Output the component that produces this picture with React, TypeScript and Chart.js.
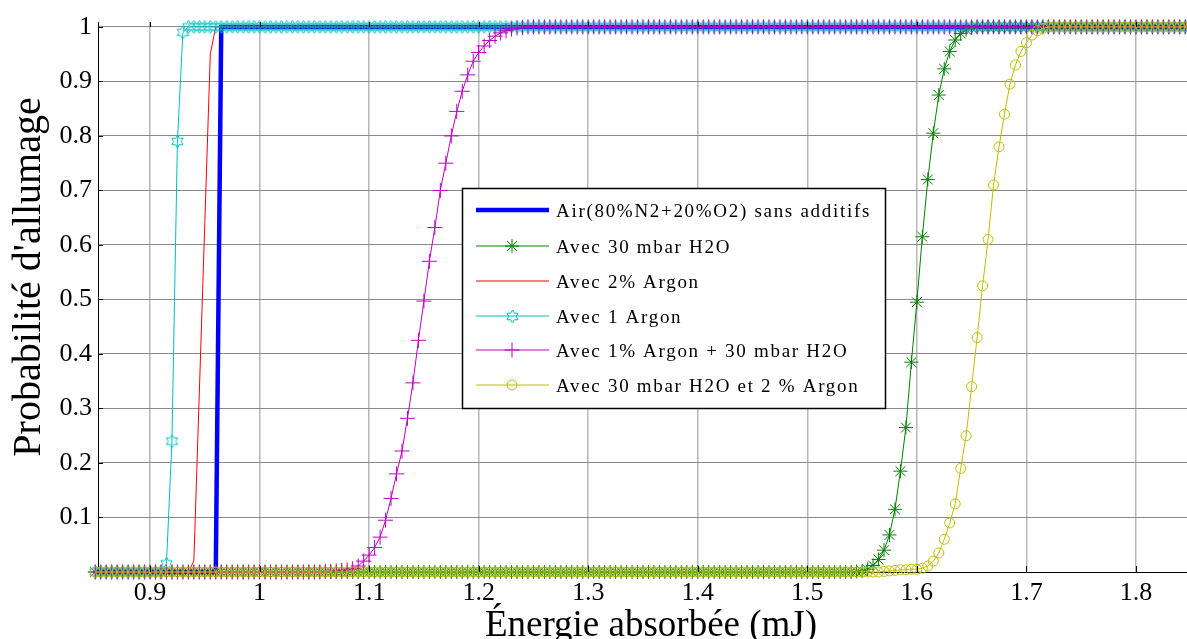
import React, { useEffect, useRef } from 'react';
import { Chart, registerables } from 'chart.js';

Chart.register(...registerables);

// Energy grid (mJ)
const energies = [
  0.85, 0.855, 0.86, 0.865, 0.87, 0.875, 0.88, 0.885, 0.89, 0.895,
  0.9, 0.905, 0.91, 0.915, 0.92, 0.925, 0.93, 0.935, 0.94, 0.945,
  0.95, 0.955, 0.96, 0.965, 0.97, 0.975, 0.98, 0.985, 0.99, 0.995,
  1, 1.005, 1.01, 1.015, 1.02, 1.025, 1.03, 1.035, 1.04, 1.045,
  1.05, 1.055, 1.06, 1.065, 1.07, 1.075, 1.08, 1.085, 1.09, 1.095,
  1.1, 1.105, 1.11, 1.115, 1.12, 1.125, 1.13, 1.135, 1.14, 1.145,
  1.15, 1.155, 1.16, 1.165, 1.17, 1.175, 1.18, 1.185, 1.19, 1.195,
  1.2, 1.205, 1.21, 1.215, 1.22, 1.225, 1.23, 1.235, 1.24, 1.245,
  1.25, 1.255, 1.26, 1.265, 1.27, 1.275, 1.28, 1.285, 1.29, 1.295,
  1.3, 1.305, 1.31, 1.315, 1.32, 1.325, 1.33, 1.335, 1.34, 1.345,
  1.35, 1.355, 1.36, 1.365, 1.37, 1.375, 1.38, 1.385, 1.39, 1.395,
  1.4, 1.405, 1.41, 1.415, 1.42, 1.425, 1.43, 1.435, 1.44, 1.445,
  1.45, 1.455, 1.46, 1.465, 1.47, 1.475, 1.48, 1.485, 1.49, 1.495,
  1.5, 1.505, 1.51, 1.515, 1.52, 1.525, 1.53, 1.535, 1.54, 1.545,
  1.55, 1.555, 1.56, 1.565, 1.57, 1.575, 1.58, 1.585, 1.59, 1.595,
  1.6, 1.605, 1.61, 1.615, 1.62, 1.625, 1.63, 1.635, 1.64, 1.645,
  1.65, 1.655, 1.66, 1.665, 1.67, 1.675, 1.68, 1.685, 1.69, 1.695,
  1.7, 1.705, 1.71, 1.715, 1.72, 1.725, 1.73, 1.735, 1.74, 1.745,
  1.75, 1.755, 1.76, 1.765, 1.77, 1.775, 1.78, 1.785, 1.79, 1.795,
  1.8, 1.805, 1.81, 1.815, 1.82, 1.825, 1.83, 1.835, 1.84, 1.845,
  1.85,
];

const airSansAdditifs = [
  0, 0, 0, 0, 0, 0, 0, 0, 0, 0,
  0, 0, 0, 0, 0, 0, 0, 0, 0, 0,
  0, 0, 0, 1, 1, 1, 1, 1, 1, 1,
  1, 1, 1, 1, 1, 1, 1, 1, 1, 1,
  1, 1, 1, 1, 1, 1, 1, 1, 1, 1,
  1, 1, 1, 1, 1, 1, 1, 1, 1, 1,
  1, 1, 1, 1, 1, 1, 1, 1, 1, 1,
  1, 1, 1, 1, 1, 1, 1, 1, 1, 1,
  1, 1, 1, 1, 1, 1, 1, 1, 1, 1,
  1, 1, 1, 1, 1, 1, 1, 1, 1, 1,
  1, 1, 1, 1, 1, 1, 1, 1, 1, 1,
  1, 1, 1, 1, 1, 1, 1, 1, 1, 1,
  1, 1, 1, 1, 1, 1, 1, 1, 1, 1,
  1, 1, 1, 1, 1, 1, 1, 1, 1, 1,
  1, 1, 1, 1, 1, 1, 1, 1, 1, 1,
  1, 1, 1, 1, 1, 1, 1, 1, 1, 1,
  1, 1, 1, 1, 1, 1, 1, 1, 1, 1,
  1, 1, 1, 1, 1, 1, 1, 1, 1, 1,
  1, 1, 1, 1, 1, 1, 1, 1, 1, 1,
  1, 1, 1, 1, 1, 1, 1, 1, 1, 1,
  1,
];

const avecH2O30 = [
  0, 0, 0, 0, 0, 0, 0, 0, 0, 0,
  0, 0, 0, 0, 0, 0, 0, 0, 0, 0,
  0, 0, 0, 0, 0, 0, 0, 0, 0, 0,
  0, 0, 0, 0, 0, 0, 0, 0, 0, 0,
  0, 0, 0, 0, 0, 0, 0, 0, 0, 0,
  0, 0, 0, 0, 0, 0, 0, 0, 0, 0,
  0, 0, 0, 0, 0, 0, 0, 0, 0, 0,
  0, 0, 0, 0, 0, 0, 0, 0, 0, 0,
  0, 0, 0, 0, 0, 0, 0, 0, 0, 0,
  0, 0, 0, 0, 0, 0, 0, 0, 0, 0,
  0, 0, 0, 0, 0, 0, 0, 0, 0, 0,
  0, 0, 0, 0, 0, 0, 0, 0, 0, 0,
  0, 0, 0, 0, 0, 0, 0, 0, 0, 0,
  0, 0, 0, 0, 0, 0, 0, 0, 0, 0.001,
  0.002, 0.005, 0.012, 0.023, 0.04, 0.068, 0.115, 0.185, 0.265, 0.385,
  0.495, 0.615, 0.72, 0.805, 0.875, 0.923, 0.955, 0.976, 0.988, 0.995,
  0.998, 1, 1, 1, 1, 1, 1, 1, 1, 1,
  1, 1, 1, 1, 1, 1, 1, 1, 1, 1,
  1, 1, 1, 1, 1, 1, 1, 1, 1, 1,
  1, 1, 1, 1, 1, 1, 1, 1, 1, 1,
  1,
];

const avecArgon2 = [
  0, 0, 0, 0, 0, 0, 0, 0, 0, 0,
  0, 0, 0, 0, 0, 0, 0, 0, 0.02, 0.33,
  0.64, 0.95, 1, 1, 1, 1, 1, 1, 1, 1,
  1, 1, 1, 1, 1, 1, 1, 1, 1, 1,
  1, 1, 1, 1, 1, 1, 1, 1, 1, 1,
  1, 1, 1, 1, 1, 1, 1, 1, 1, 1,
  1, 1, 1, 1, 1, 1, 1, 1, 1, 1,
  1, 1, 1, 1, 1, 1, 1, 1, 1, 1,
  1, 1, 1, 1, 1, 1, 1, 1, 1, 1,
  1, 1, 1, 1, 1, 1, 1, 1, 1, 1,
  1, 1, 1, 1, 1, 1, 1, 1, 1, 1,
  1, 1, 1, 1, 1, 1, 1, 1, 1, 1,
  1, 1, 1, 1, 1, 1, 1, 1, 1, 1,
  1, 1, 1, 1, 1, 1, 1, 1, 1, 1,
  1, 1, 1, 1, 1, 1, 1, 1, 1, 1,
  1, 1, 1, 1, 1, 1, 1, 1, 1, 1,
  1, 1, 1, 1, 1, 1, 1, 1, 1, 1,
  1, 1, 1, 1, 1, 1, 1, 1, 1, 1,
  1, 1, 1, 1, 1, 1, 1, 1, 1, 1,
  1, 1, 1, 1, 1, 1, 1, 1, 1, 1,
  1,
];

const avecArgon1 = [
  0, 0, 0, 0, 0, 0, 0, 0, 0, 0,
  0, 0, 0, 0.015, 0.24, 0.79, 0.99, 1, 1, 1,
  1, 1, 1, 1, 1, 1, 1, 1, 1, 1,
  1, 1, 1, 1, 1, 1, 1, 1, 1, 1,
  1, 1, 1, 1, 1, 1, 1, 1, 1, 1,
  1, 1, 1, 1, 1, 1, 1, 1, 1, 1,
  1, 1, 1, 1, 1, 1, 1, 1, 1, 1,
  1, 1, 1, 1, 1, 1, 1, 1, 1, 1,
  1, 1, 1, 1, 1, 1, 1, 1, 1, 1,
  1, 1, 1, 1, 1, 1, 1, 1, 1, 1,
  1, 1, 1, 1, 1, 1, 1, 1, 1, 1,
  1, 1, 1, 1, 1, 1, 1, 1, 1, 1,
  1, 1, 1, 1, 1, 1, 1, 1, 1, 1,
  1, 1, 1, 1, 1, 1, 1, 1, 1, 1,
  1, 1, 1, 1, 1, 1, 1, 1, 1, 1,
  1, 1, 1, 1, 1, 1, 1, 1, 1, 1,
  1, 1, 1, 1, 1, 1, 1, 1, 1, 1,
  1, 1, 1, 1, 1, 1, 1, 1, 1, 1,
  1, 1, 1, 1, 1, 1, 1, 1, 1, 1,
  1, 1, 1, 1, 1, 1, 1, 1, 1, 1,
  1,
];

const avecArgon1H2O30 = [
  0, 0, 0, 0, 0, 0, 0, 0, 0, 0,
  0, 0, 0, 0, 0, 0, 0, 0, 0, 0,
  0, 0, 0, 0, 0, 0, 0, 0, 0, 0,
  0, 0, 0, 0, 0, 0, 0, 0, 0, 0,
  0, 0, 0.001, 0.001, 0.002, 0.003, 0.004, 0.006, 0.011, 0.02,
  0.031, 0.045, 0.064, 0.095, 0.135, 0.18, 0.222, 0.282, 0.347, 0.425,
  0.497, 0.57, 0.632, 0.7, 0.75, 0.8, 0.845, 0.882, 0.912, 0.937,
  0.953, 0.965, 0.975, 0.983, 0.989, 0.993, 0.996, 0.998, 0.999, 1,
  1, 1, 1, 1, 1, 1, 1, 1, 1, 1,
  1, 1, 1, 1, 1, 1, 1, 1, 1, 1,
  1, 1, 1, 1, 1, 1, 1, 1, 1, 1,
  1, 1, 1, 1, 1, 1, 1, 1, 1, 1,
  1, 1, 1, 1, 1, 1, 1, 1, 1, 1,
  1, 1, 1, 1, 1, 1, 1, 1, 1, 1,
  1, 1, 1, 1, 1, 1, 1, 1, 1, 1,
  1, 1, 1, 1, 1, 1, 1, 1, 1, 1,
  1, 1, 1, 1, 1, 1, 1, 1, 1, 1,
  1, 1, 1, 1, 1, 1, 1, 1, 1, 1,
  1, 1, 1, 1, 1, 1, 1, 1, 1, 1,
  1, 1, 1, 1, 1, 1, 1, 1, 1, 1,
  1,
];

const avecH2O30Argon2 = [
  0, 0, 0, 0, 0, 0, 0, 0, 0, 0,
  0, 0, 0, 0, 0, 0, 0, 0, 0, 0,
  0, 0, 0, 0, 0, 0, 0, 0, 0, 0,
  0, 0, 0, 0, 0, 0, 0, 0, 0, 0,
  0, 0, 0, 0, 0, 0, 0, 0, 0, 0,
  0, 0, 0, 0, 0, 0, 0, 0, 0, 0,
  0, 0, 0, 0, 0, 0, 0, 0, 0, 0,
  0, 0, 0, 0, 0, 0, 0, 0, 0, 0,
  0, 0, 0, 0, 0, 0, 0, 0, 0, 0,
  0, 0, 0, 0, 0, 0, 0, 0, 0, 0,
  0, 0, 0, 0, 0, 0, 0, 0, 0, 0,
  0, 0, 0, 0, 0, 0, 0, 0, 0, 0,
  0, 0, 0, 0, 0, 0, 0, 0, 0, 0,
  0, 0, 0, 0, 0, 0, 0, 0, 0, 0,
  0, 0, 0, 0, 0.001, 0.002, 0.003, 0.004, 0.004, 0.005,
  0.005, 0.007, 0.011, 0.02, 0.035, 0.06, 0.09, 0.125, 0.19, 0.25,
  0.34, 0.43, 0.525, 0.61, 0.71, 0.78, 0.84, 0.895, 0.93, 0.955,
  0.971, 0.985, 0.993, 0.997, 1, 1, 1, 1, 1, 1,
  1, 1, 1, 1, 1, 1, 1, 1, 1, 1,
  1, 1, 1, 1, 1, 1, 1, 1, 1, 1,
  1,
];

const seriesLabels = [
  'Air(80%N2+20%O2) sans additifs',
  'Avec 30 mbar H2O',
  'Avec 2% Argon',
  'Avec 1 Argon',
  'Avec 1% Argon + 30 mbar H2O',
  'Avec 30 mbar H2O et 2 % Argon',
];

const xTickValues = [0.9, 1, 1.1, 1.2, 1.3, 1.4, 1.5, 1.6, 1.7, 1.8];
const xTickLabels = ['0.9', '1', '1.1', '1.2', '1.3', '1.4', '1.5', '1.6', '1.7', '1.8'];
const yTickValues = [0.1, 0.2, 0.3, 0.4, 0.5, 0.6, 0.7, 0.8, 0.9, 1];
const yTickLabels = ['0.1', '0.2', '0.3', '0.4', '0.5', '0.6', '0.7', '0.8', '0.9', '1'];
const xAxisTitle = 'Énergie absorbée (mJ)';
const yAxisTitle = "Probabilité d'allumage";

const SERIF = '"Liberation Serif", "DejaVu Serif", serif';

type MarkerKind = 'none' | 'star' | 'hexagram' | 'cross' | 'circle';

function makeHexagram(color: string, r: number): HTMLCanvasElement {
  const size = Math.ceil(2 * r + 4);
  const c = document.createElement('canvas');
  c.width = size;
  c.height = size;
  const g = c.getContext('2d')!;
  g.strokeStyle = color;
  g.lineWidth = 1;
  const cx = size / 2;
  const cy = size / 2;
  g.beginPath();
  for (let k = 0; k < 12; k++) {
    const a = -Math.PI / 2 + (k * Math.PI) / 6;
    const rr = k % 2 === 0 ? r : r / Math.sqrt(3);
    const px = cx + rr * Math.cos(a);
    const py = cy + rr * Math.sin(a);
    if (k === 0) g.moveTo(px, py);
    else g.lineTo(px, py);
  }
  g.closePath();
  g.stroke();
  return c;
}

function drawMarker(ctx: CanvasRenderingContext2D, kind: MarkerKind, x: number, y: number, color: string, r: number, img?: HTMLCanvasElement) {
  ctx.save();
  ctx.strokeStyle = color;
  ctx.lineWidth = 1;
  if (kind === 'star') {
    ctx.beginPath();
    for (let k = 0; k < 4; k++) {
      const a = (k * Math.PI) / 4;
      ctx.moveTo(x - r * Math.cos(a), y - r * Math.sin(a));
      ctx.lineTo(x + r * Math.cos(a), y + r * Math.sin(a));
    }
    ctx.stroke();
  } else if (kind === 'cross') {
    ctx.beginPath();
    ctx.moveTo(x - r, y);
    ctx.lineTo(x + r, y);
    ctx.moveTo(x, y - r);
    ctx.lineTo(x, y + r);
    ctx.stroke();
  } else if (kind === 'circle') {
    ctx.beginPath();
    ctx.arc(x, y, r, 0, Math.PI * 2);
    ctx.stroke();
  } else if (kind === 'hexagram' && img) {
    ctx.drawImage(img, Math.round(x - img.width / 2), Math.round(y - img.height / 2));
  }
  ctx.restore();
}

export default function App() {
  const canvasRef = useRef<HTMLCanvasElement | null>(null);

  useEffect(() => {
    const canvas = canvasRef.current;
    if (!canvas) return;

    const cyanColor = '#00bfbf';
    const hexImg = makeHexagram(cyanColor, 6.5);

    const styles: { color: string; width: number; marker: MarkerKind; radius: number }[] = [
      { color: '#0000ff', width: 4.5, marker: 'none', radius: 0 },
      { color: '#008000', width: 1, marker: 'star', radius: 7 },
      { color: '#ff0000', width: 1, marker: 'none', radius: 0 },
      { color: cyanColor, width: 1, marker: 'hexagram', radius: 6.5 },
      { color: '#bf00bf', width: 1, marker: 'cross', radius: 7.5 },
      { color: '#bfbf00', width: 1, marker: 'circle', radius: 5 },
    ];
    const seriesValues = [airSansAdditifs, avecH2O30, avecArgon2, avecArgon1, avecArgon1H2O30, avecH2O30Argon2];

    const datasets = seriesValues.map((vals, idx) => {
      const st = styles[idx];
      let pointStyle: any = 'circle';
      if (st.marker === 'star') pointStyle = 'star';
      if (st.marker === 'cross') pointStyle = 'cross';
      if (st.marker === 'hexagram') pointStyle = hexImg;
      return {
        label: seriesLabels[idx],
        data: energies.map((x, i) => ({ x, y: vals[i] })),
        borderColor: st.color,
        backgroundColor: 'rgba(0,0,0,0)',
        borderWidth: st.width,
        pointStyle,
        pointRadius: st.marker === 'none' ? 0 : st.radius,
        pointBorderColor: st.color,
        pointBackgroundColor: 'rgba(0,0,0,0)',
        pointBorderWidth: 1,
        tension: 0,
        fill: false,
        clip: false as any,
        order: seriesValues.length - 1 - idx,
      };
    });

    const decorPlugin = {
      id: 'decor',
      afterDraw(chart: any) {
        const ctx: CanvasRenderingContext2D = chart.ctx;
        const area = chart.chartArea;
        const xs = chart.scales.x;
        const ys = chart.scales.y;
        ctx.save();
        // inner tick marks
        ctx.strokeStyle = '#000';
        ctx.lineWidth = 1;
        ctx.beginPath();
        xTickValues.forEach((v) => {
          const px = Math.round(xs.getPixelForValue(v)) + 0.5;
          ctx.moveTo(px, area.bottom);
          ctx.lineTo(px, area.bottom - 6);
          ctx.moveTo(px, area.top);
          ctx.lineTo(px, area.top + 5);
        });
        yTickValues.forEach((v) => {
          const py = Math.round(ys.getPixelForValue(v)) + 0.5;
          ctx.moveTo(area.left, py);
          ctx.lineTo(area.left + 5, py);
        });
        ctx.stroke();

        // axis titles
        ctx.fillStyle = '#000';
        ctx.font = `37px ${SERIF}`;
        ctx.textAlign = 'center';
        ctx.textBaseline = 'alphabetic';
        ctx.fillText(xAxisTitle, 651, 636);
        ctx.save();
        ctx.translate(40, 277);
        ctx.rotate(-Math.PI / 2);
        ctx.font = `40px ${SERIF}`;
        ctx.fillText(yAxisTitle, 0, 0);
        ctx.restore();

        // legend box
        const bx = 462, by = 188, bw = 423, bh = 220;
        ctx.fillStyle = '#fff';
        ctx.fillRect(bx, by, bw, bh);
        ctx.strokeStyle = '#000';
        ctx.lineWidth = 1.5;
        ctx.strokeRect(bx + 0.5, by + 0.5, bw, bh);
        const rowY = [210, 246, 281, 316, 350, 385];
        seriesLabels.forEach((label, idx) => {
          const st = styles[idx];
          const y = rowY[idx];
          ctx.strokeStyle = st.color;
          ctx.lineWidth = st.width;
          ctx.beginPath();
          ctx.moveTo(476, y);
          ctx.lineTo(549, y);
          ctx.stroke();
          if (st.marker !== 'none') drawMarker(ctx, st.marker, 512, y, st.color, st.radius, hexImg);
          ctx.fillStyle = '#000';
          ctx.font = `19px ${SERIF}`;
          (ctx as any).letterSpacing = '1.7px';
          ctx.textAlign = 'left';
          ctx.textBaseline = 'middle';
          ctx.fillText(label, 556, y + 2);
          (ctx as any).letterSpacing = '0px';
        });
        ctx.restore();
      },
    };

    const chart = new Chart(canvas, {
      type: 'line',
      data: { datasets: datasets as any },
      options: {
        animation: false,
        responsive: false,
        devicePixelRatio: 1,
        layout: { autoPadding: false, padding: { top: 22, right: 0, left: 0, bottom: 0 } },
        plugins: { legend: { display: false }, tooltip: { enabled: false } },
        scales: {
          x: {
            type: 'linear',
            min: 0.8525,
            max: 1.8466,
            afterBuildTicks: (s: any) => {
              s.ticks = xTickValues.map((v) => ({ value: v }));
            },
            afterFit: (s: any) => {
              s.height = 67;
              s.paddingLeft = 0;
              s.paddingRight = 0;
            },
            ticks: {
              autoSkip: false,
              maxRotation: 0,
              padding: 6,
              color: '#000',
              font: { family: SERIF, size: 26 },
              callback: (v: any) => {
                const i = xTickValues.findIndex((t) => Math.abs(t - Number(v)) < 1e-9);
                return i >= 0 ? xTickLabels[i] : '';
              },
            },
            grid: { color: '#b8b8b8', lineWidth: 1.5, drawTicks: false },
            border: { display: true, color: '#000', width: 1 },
          },
          y: {
            type: 'linear',
            min: 0,
            max: 1.009,
            afterBuildTicks: (s: any) => {
              s.ticks = yTickValues.map((v) => ({ value: v }));
            },
            afterFit: (s: any) => {
              s.width = 98;
              s.paddingTop = 0;
              s.paddingBottom = 0;
            },
            ticks: {
              padding: 6,
              color: '#000',
              font: { family: SERIF, size: 26 },
              callback: (v: any) => {
                const i = yTickValues.findIndex((t) => Math.abs(t - Number(v)) < 1e-9);
                return i >= 0 ? yTickLabels[i] : '';
              },
            },
            grid: { color: '#8a8a8a', lineWidth: 1, drawTicks: false },
            border: { display: true, color: '#000', width: 1 },
          },
        },
      },
      plugins: [decorPlugin],
    });

    return () => {
      chart.destroy();
    };
  }, []);

  return (
    <div style={{ position: 'absolute', left: 0, top: 0, width: 1187, height: 639, background: '#fff', overflow: 'hidden' }}>
      <canvas ref={canvasRef} width={1187} height={639} style={{ display: 'block', width: 1187, height: 639 }} />
    </div>
  );
}
